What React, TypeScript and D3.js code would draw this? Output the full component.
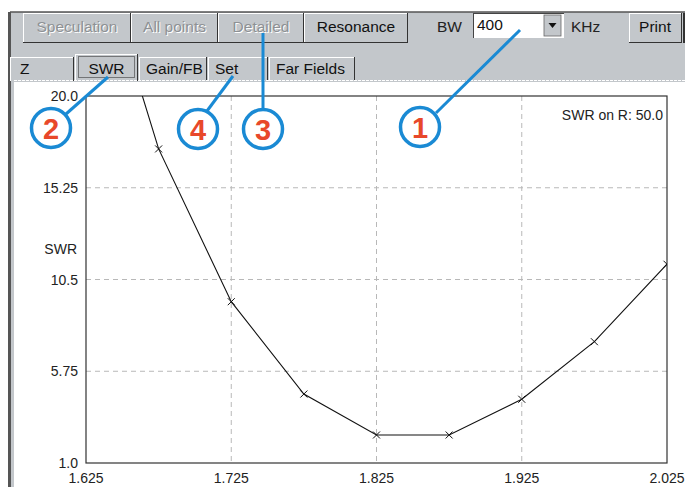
import React from "react";
import * as d3 from "d3";

const freqs = [1.625, 1.675, 1.725, 1.775, 1.825, 1.875, 1.925, 1.975, 2.025];
const swr = [29.5, 17.26, 9.35, 4.57, 2.45, 2.45, 4.3, 7.28, 11.29];
const xTicks = [1.625, 1.725, 1.825, 1.925, 2.025];
const xTickLabels = ["1.625", "1.725", "1.825", "1.925", "2.025"];
const yTicks = [1.0, 5.75, 10.5, 15.25, 20.0];
const yTickLabels = ["1.0", "5.75", "10.5", "15.25", "20.0"];
const buttons = ["Speculation", "All points", "Detailed", "Resonance"];
const buttonEnabled = [false, false, false, true];
const tabs = ["Z", "SWR", "Gain/FB", "Set", "Far Fields"];
const callouts = ["1", "2", "3", "4"];

const W = 685;
const H = 487;
const GRAY = "#c3c7cb";
const BLUE = "#1a8ad4";
const RED = "#e8482a";
const FONT = "'Liberation Sans', Arial, sans-serif";
const UI = 15.5;

const btnX = [23, 131, 218, 304, 408];
const tabX = [10, 75, 139, 208, 269, 356];
const calloutPos = [
  { cx: 420, cy: 127, x1: 436, y1: 113, x2: 520, y2: 30 },
  { cx: 51, cy: 128, x1: 66, y1: 114, x2: 108, y2: 77 },
  { cx: 263, cy: 129, x1: 263, y1: 109, x2: 263, y2: 33 },
  { cx: 198, cy: 129, x1: 207, y1: 111, x2: 233, y2: 76 },
];

export default function App() {
  const x = d3.scaleLinear().domain([1.625, 2.025]).range([86, 667]);
  const y = d3.scaleLinear().domain([1, 20]).range([463, 96]);
  const pts: [number, number][] = freqs.map((f, i) => [f, swr[i]]);
  const line = d3
    .line<[number, number]>()
    .x((d) => x(d[0]))
    .y((d) => y(d[1]));

  return (
    <>
      <style>{"body{margin:0;overflow:hidden}"}</style>
      <svg width={W} height={H} style={{ display: "block" }} fontFamily={FONT}>
        <defs>
          <clipPath id="plotclip">
            <rect x={86} y={96} width={581} height={367} />
          </clipPath>
        </defs>
        <rect x={0} y={0} width={W} height={H} fill="#fff" />
        {/* toolbar panel */}
        <rect x={10} y={12} width={W - 10} height={71} fill={GRAY} />
        <line x1={10} y1={12} x2={W} y2={12} stroke="#555" strokeWidth={1.5} />
        <rect x={8} y={12} width={3} height={H - 12} fill="#555" />
        <rect x={11} y={83} width={3} height={H - 83} fill={GRAY} />
        {/* buttons */}
        {buttons.map((b, i) => {
          const x0 = btnX[i];
          const x1 = btnX[i + 1];
          const cx = (x0 + x1) / 2;
          return (
            <g key={b}>
              <rect x={x0} y={13} width={x1 - x0} height={30} fill={GRAY} />
              <line x1={x0 + 0.5} y1={13} x2={x0 + 0.5} y2={43} stroke="#fff" />
              <line x1={x0} y1={13.5} x2={x1} y2={13.5} stroke="#fff" />
              <line x1={x1 - 0.5} y1={13} x2={x1 - 0.5} y2={43} stroke="#333" />
              <line x1={x0} y1={42.5} x2={x1} y2={42.5} stroke="#333" />
              {!buttonEnabled[i] && (
                <text x={cx + 1} y={33} fontSize={UI} textAnchor="middle" fill="#fff">
                  {b}
                </text>
              )}
              <text x={cx} y={32} fontSize={UI} textAnchor="middle" fill={buttonEnabled[i] ? "#111" : "#8e9194"}>
                {b}
              </text>
            </g>
          );
        })}
        {/* BW combo */}
        <text x={437} y={32} fontSize={UI} fill="#222">BW</text>
        <rect x={473} y={13} width={91} height={25} fill="#fff" />
        <line x1={473.5} y1={13} x2={473.5} y2={38} stroke="#444" />
        <line x1={473} y1={13.5} x2={564} y2={13.5} stroke="#444" />
        <text x={477} y={30} fontSize={UI} fill="#111">400</text>
        <rect x={544} y={15} width={17} height={21} fill={GRAY} stroke="#666" strokeWidth={0.8} />
        <path d="M548.5,23 L556.5,23 L552.5,28 Z" fill="#111" />
        <text x={571} y={32} fontSize={UI} fill="#222">KHz</text>
        {/* Print */}
        <rect x={629} y={13} width={53} height={30} fill={GRAY} />
        <line x1={629.5} y1={13} x2={629.5} y2={43} stroke="#fff" />
        <line x1={629} y1={13.5} x2={682} y2={13.5} stroke="#fff" />
        <line x1={681.5} y1={13} x2={681.5} y2={43} stroke="#333" />
        <line x1={629} y1={42.5} x2={682} y2={42.5} stroke="#333" />
        <text x={655} y={32} fontSize={UI} textAnchor="middle" fill="#111">Print</text>
        <line x1={684} y1={13} x2={684} y2={43} stroke="#333" strokeWidth={2} />
        {/* tabs */}
        {tabs.map((t, i) => {
          const sel = i === 1;
          const x0 = tabX[i];
          const x1 = tabX[i + 1] - 1;
          const top = sel ? 54 : 57;
          return (
            <g key={t}>
              <rect x={x0} y={top} width={x1 - x0} height={81 - top} fill={GRAY} />
              <line x1={x0 + 0.5} y1={top} x2={x0 + 0.5} y2={81} stroke="#fff" />
              <line x1={x0} y1={top + 0.5} x2={x1} y2={top + 0.5} stroke="#fff" />
              <line x1={x1 - 0.5} y1={top} x2={x1 - 0.5} y2={81} stroke="#333" />
              {sel && (
                <rect x={x0 + 3.5} y={56.5} width={x1 - x0 - 7} height={21} fill="none" stroke="#222" strokeDasharray="1,1" />
              )}
              <text
                x={i === 0 ? 20 : sel ? (x0 + x1) / 2 : x0 + 7}
                y={74}
                fontSize={UI}
                textAnchor={sel ? "middle" : "start"}
                fill="#111"
              >
                {t}
              </text>
            </g>
          );
        })}
        <line x1={14} y1={80.5} x2={W} y2={80.5} stroke="#fff" strokeDasharray="3,1" />
        <rect x={14} y={82} width={W - 14} height={H - 82} fill="#fff" />
        {/* grid */}
        {xTicks.slice(1, -1).map((t) => (
          <line key={"gx" + t} x1={x(t)} x2={x(t)} y1={96} y2={463} stroke="#b8b8b8" strokeDasharray="5,4" />
        ))}
        {yTicks.slice(1, -1).map((t) => (
          <line key={"gy" + t} x1={86} x2={667} y1={y(t)} y2={y(t)} stroke="#b8b8b8" strokeDasharray="5,4" />
        ))}
        <rect x={86} y={96} width={581} height={367} fill="none" stroke="#333" strokeWidth={1.2} />
        {/* tick labels */}
        {yTicks.map((t, i) => (
          <text key={"yl" + t} x={78} y={y(t)} dy="0.36em" fontSize={14} textAnchor="end" fill="#222">
            {yTickLabels[i]}
          </text>
        ))}
        {xTicks.map((t, i) => (
          <text key={"xl" + t} x={x(t)} y={483} fontSize={14} textAnchor="middle" fill="#222">
            {xTickLabels[i]}
          </text>
        ))}
        <text x={77} y={y(12.1)} dy="0.36em" fontSize={14} textAnchor="end" fill="#222">
          SWR
        </text>
        <text x={663} y={120} fontSize={14} textAnchor="end" fill="#222">
          SWR on R: 50.0
        </text>
        {/* data */}
        <g clipPath="url(#plotclip)">
          <path d={line(pts) || ""} fill="none" stroke="#111" strokeWidth={1.1} />
          {pts.map((p, i) => (
            <path
              key={"m" + i}
              d={`M${x(p[0]) - 3.5},${y(p[1]) - 3.5}L${x(p[0]) + 3.5},${y(p[1]) + 3.5}M${x(p[0]) - 3.5},${y(p[1]) + 3.5}L${x(p[0]) + 3.5},${y(p[1]) - 3.5}`}
              stroke="#111"
              strokeWidth={1}
            />
          ))}
        </g>
        {/* callouts */}
        {callouts.map((c, i) => {
          const p = calloutPos[i];
          return (
            <g key={"c" + c}>
              <line x1={p.x1} y1={p.y1} x2={p.x2} y2={p.y2} stroke={BLUE} strokeWidth={3} />
              <circle cx={p.cx} cy={p.cy} r={19.5} fill="#fff" stroke={BLUE} strokeWidth={3.5} />
              <text x={p.cx} y={p.cy} dy="0.37em" fontSize={29} fontWeight={900} textAnchor="middle" fill={RED}>
                {c}
              </text>
            </g>
          );
        })}
      </svg>
    </>
  );
}
